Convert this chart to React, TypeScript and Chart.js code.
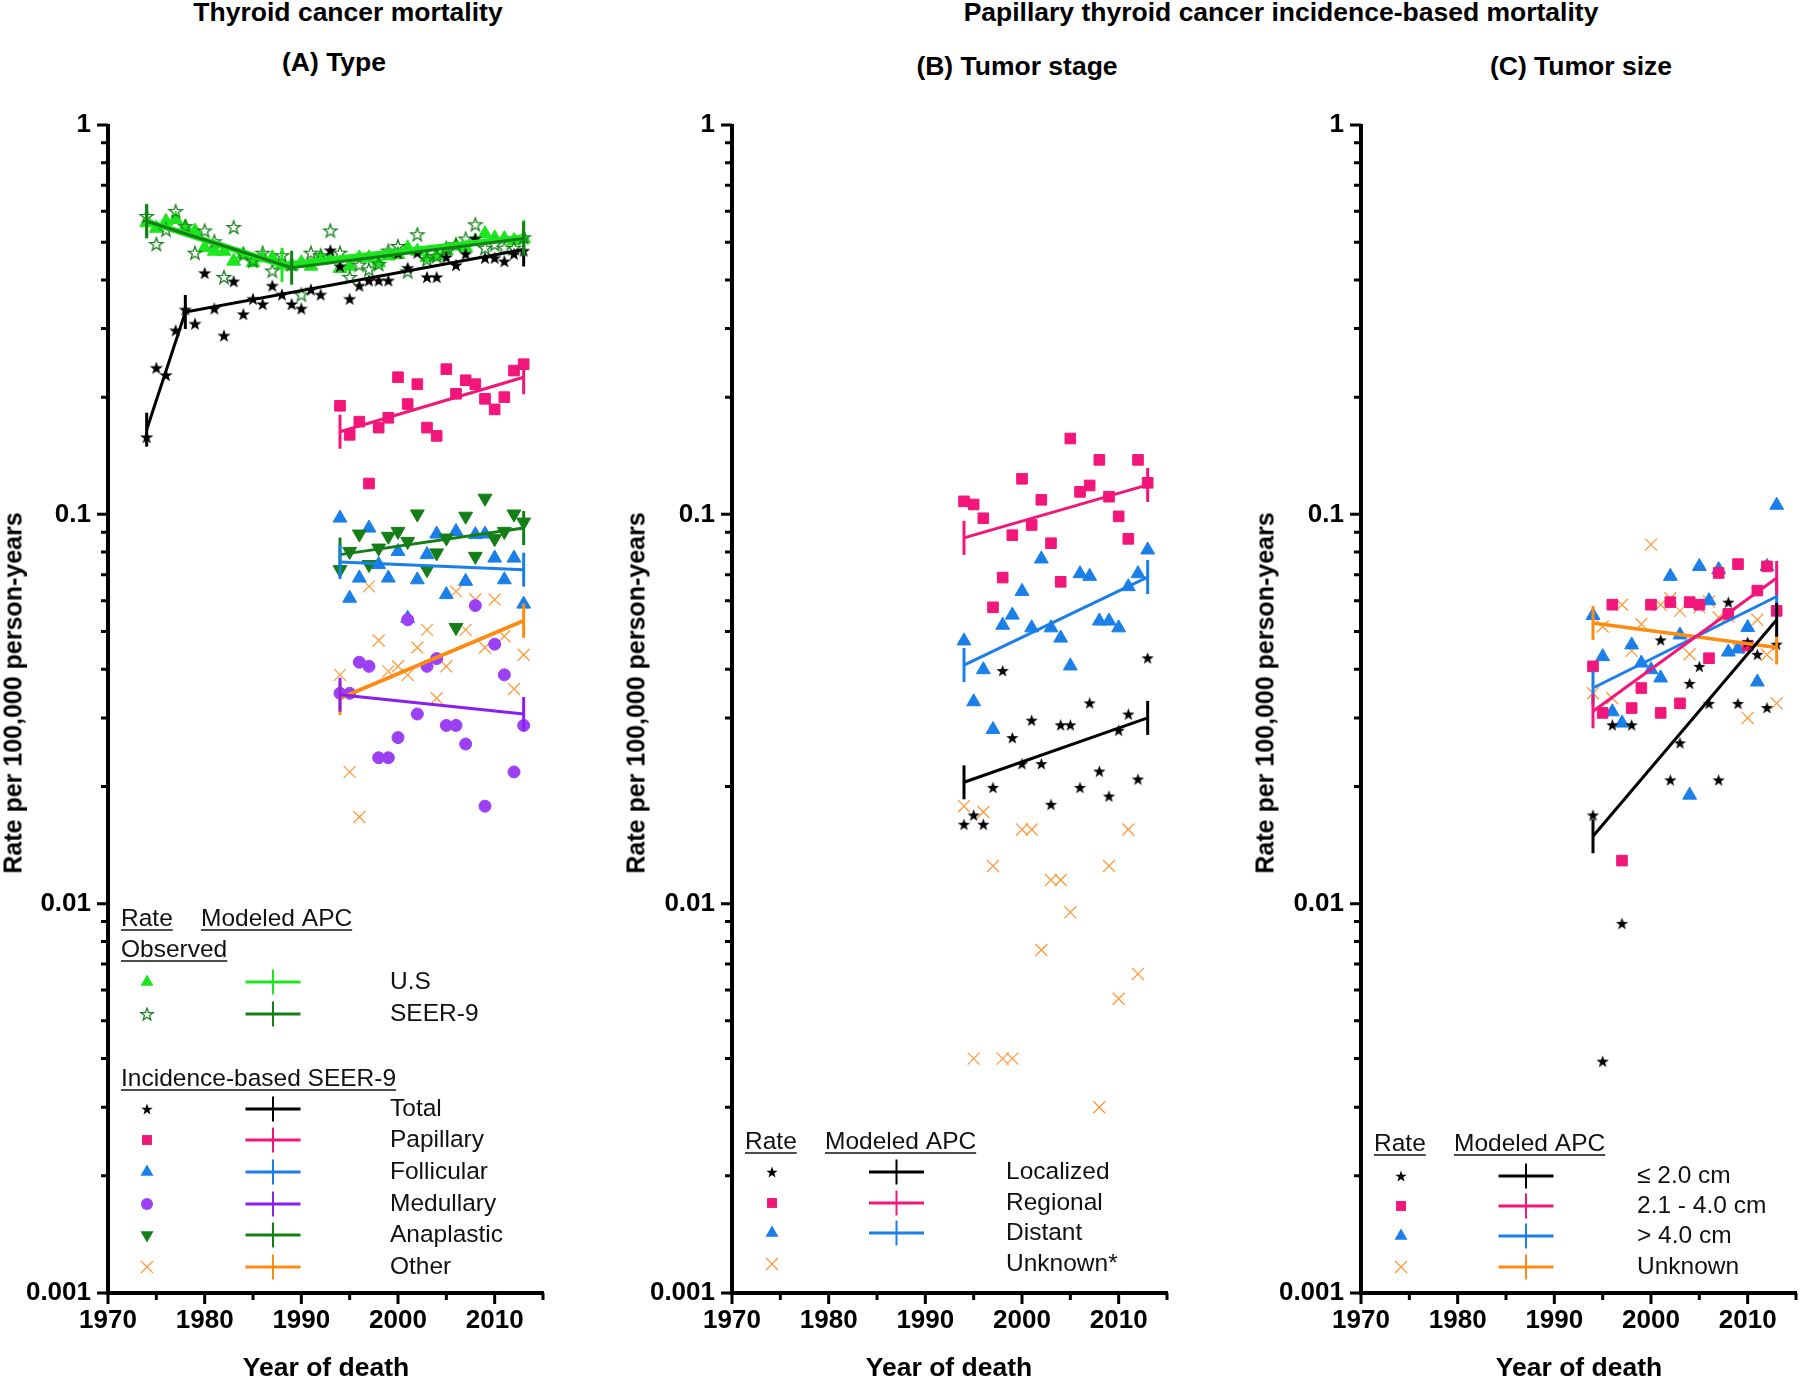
import React, { useEffect, useRef } from "react";
import { Chart, registerables } from "chart.js";

Chart.register(...registerables);

const FONT = '"Liberation Sans", Arial, Helvetica, sans-serif';

// ---------------- categories / ticks ----------------
const YEARS_LONG = [1974, 1975, 1976, 1977, 1978, 1979, 1980, 1981, 1982, 1983, 1984, 1985, 1986, 1987, 1988, 1989, 1990, 1991, 1992, 1993, 1994, 1995, 1996, 1997, 1998, 1999, 2000, 2001, 2002, 2003, 2004, 2005, 2006, 2007, 2008, 2009, 2010, 2011, 2012, 2013];
const YEARS_SHORT = [1994, 1995, 1996, 1997, 1998, 1999, 2000, 2001, 2002, 2003, 2004, 2005, 2006, 2007, 2008, 2009, 2010, 2011, 2012, 2013];
const X_TICKS = [1970, 1980, 1990, 2000, 2010];
const Y_TICKS = [0.001, 0.01, 0.1, 1];

// ---------------- panel A: type ----------------
const A_US_RATE = [0.561, 0.543, 0.566, 0.572, 0.547, 0.534, 0.484, 0.474, 0.474, 0.447, 0.465, 0.443, 0.456, 0.456, 0.438, 0.434, 0.443, 0.434, 0.456, 0.456, 0.428, 0.434, 0.456, 0.456, 0.443, 0.461, 0.465, 0.484, 0.474, 0.456, 0.461, 0.476, 0.489, 0.484, 0.503, 0.526, 0.513, 0.511, 0.505, 0.511];
const A_SEER9_RATE = [0.584, 0.495, 0.539, 0.601, 0.55, 0.47, 0.536, 0.503, 0.407, 0.547, 0.465, 0.449, 0.47, 0.423, 0.463, 0.44, 0.367, 0.47, 0.463, 0.536, 0.47, 0.407, 0.438, 0.426, 0.44, 0.476, 0.489, 0.421, 0.524, 0.452, 0.461, 0.484, 0.494, 0.511, 0.556, 0.484, 0.494, 0.484, 0.484, 0.515];
const A_TOTAL_RATE = [0.158, 0.238, 0.228, 0.297, 0.336, 0.309, 0.417, 0.338, 0.288, 0.397, 0.327, 0.358, 0.347, 0.387, 0.367, 0.347, 0.338, 0.378, 0.367, 0.477, 0.434, 0.358, 0.387, 0.399, 0.399, 0.399, 0.469, 0.43, 0.47, 0.407, 0.407, 0.458, 0.437, 0.467, 0.511, 0.456, 0.456, 0.447, 0.467, 0.476];
const A_PAPILLARY_RATE = [0.19, 0.16, 0.173, 0.12, 0.167, 0.177, 0.225, 0.192, 0.216, 0.167, 0.159, 0.236, 0.204, 0.221, 0.216, 0.198, 0.186, 0.2, 0.234, 0.243];
const A_FOLLICULAR_RATE = [0.0978, 0.0609, 0.0686, 0.0922, 0.0743, 0.0686, 0.0803, 0.0541, 0.0679, 0.0788, 0.089, 0.0622, 0.0904, 0.0673, 0.0887, 0.089, 0.0772, 0.0679, 0.0772, 0.0588];
const A_MEDULLARY_RATE = [0.0347, 0.0347, 0.0417, 0.0407, 0.0237, 0.0237, 0.0267, 0.0536, 0.0307, 0.0407, 0.0426, 0.0287, 0.0287, 0.0257, 0.0583, 0.0178, 0.0464, 0.0387, 0.0218, 0.0287];
const A_ANAPLASTIC_RATE = [0.0721, 0.0803, 0.089, 0.0743, 0.0819, 0.0878, 0.0904, 0.0852, 0.1002, 0.0721, 0.0796, 0.0869, 0.0512, 0.0989, 0.078, 0.11, 0.0866, 0.0904, 0.1002, 0.0955];
const A_OTHER_RATE = [0.0387, 0.0218, 0.0167, 0.0653, 0.0474, 0.0395, 0.0407, 0.0387, 0.0455, 0.0505, 0.0337, 0.0407, 0.0634, 0.0505, 0.0604, 0.0455, 0.0604, 0.0486, 0.0356, 0.0436];

const A_US_APC_YEARS = [1974, 1988, 2013];
const A_US_APC = [0.566, 0.437, 0.515];
const A_SEER9_APC_YEARS = [1974, 1989, 2013];
const A_SEER9_APC = [0.566, 0.43, 0.511];
const A_TOTAL_APC_YEARS = [1974, 1978, 2013];
const A_TOTAL_APC = [0.165, 0.331, 0.479];
const SHORT_APC_YEARS = [1994, 2013];
const A_PAPILLARY_APC = [0.163, 0.225];
const A_FOLLICULAR_APC = [0.0754, 0.0721];
const A_MEDULLARY_APC = [0.0344, 0.0307];
const A_ANAPLASTIC_APC = [0.0788, 0.0922];
const A_OTHER_APC = [0.0337, 0.0533];

// ---------------- panel B: tumor stage ----------------
const B_LOCALIZED_RATE = [0.016, 0.0169, 0.016, 0.0199, 0.0397, 0.0267, 0.0229, 0.0296, 0.0229, 0.018, 0.0288, 0.0288, 0.0199, 0.0328, 0.0219, 0.0189, 0.0279, 0.0307, 0.0209, 0.0428];
const B_REGIONAL_RATE = [0.108, 0.106, 0.0977, 0.0577, 0.0688, 0.0884, 0.1234, 0.0939, 0.109, 0.0843, 0.0671, 0.1566, 0.1142, 0.1186, 0.138, 0.111, 0.0988, 0.0865, 0.138, 0.1205];
const B_DISTANT_RATE = [0.0473, 0.033, 0.0399, 0.028, 0.0519, 0.0551, 0.0634, 0.0511, 0.0768, 0.0511, 0.0481, 0.0408, 0.0704, 0.0693, 0.0532, 0.0532, 0.0511, 0.0652, 0.0704, 0.081];
const B_UNKNOWN_RATE = [0.0178, 0.004, 0.0172, 0.0125, 0.004, 0.004, 0.0155, 0.0155, 0.0076, 0.0115, 0.0115, 0.0095, null, null, 0.003, 0.0125, 0.0057, 0.0155, 0.0066, null];
const B_LOCALIZED_APC = [0.0205, 0.03];
const B_REGIONAL_APC = [0.087, 0.119];
const B_DISTANT_APC = [0.041, 0.069];

// ---------------- panel C: tumor size ----------------
const C_SMALL_RATE = [0.0169, 0.00394, 0.0288, 0.0089, 0.0288, null, null, 0.0476, 0.0208, 0.0259, 0.0368, 0.0407, 0.0327, 0.0208, 0.0595, 0.0327, 0.047, 0.0437, 0.0319, 0.0464];
const C_MEDIUM_RATE = [0.0407, 0.0309, 0.0586, 0.0129, 0.0318, 0.0358, 0.0586, 0.0309, 0.0595, 0.0327, 0.0595, 0.0586, 0.0427, 0.0707, 0.0555, 0.0745, 0.046, 0.0637, 0.0735, 0.0565];
const C_LARGE_RATE = [0.055, 0.0431, 0.0311, 0.0291, 0.0462, 0.0415, 0.0399, 0.038, 0.0693, 0.049, 0.019, 0.0735, 0.06, 0.0721, 0.0443, 0.0451, 0.0512, 0.0371, 0.0735, 0.1055];
const C_UNKNOWN_RATE = [0.0347, 0.0515, 0.0337, 0.0586, 0.0446, 0.0522, 0.0836, 0.0586, 0.0609, 0.0565, 0.0437, 0.0577, 0.0597, 0.0543, 0.0547, 0.0453, 0.03, 0.0536, 0.0436, 0.0327];
const C_SMALL_APC = [0.0149, 0.0536];
const C_MEDIUM_APC = [0.0312, 0.0686];
const C_LARGE_APC = [0.0358, 0.0615];
const C_UNKNOWN_APC = [0.0526, 0.0455];

// ---------------- colours ----------------
const BLACK = "#000000";
const LIME = "#1ee61e";
const DKGREEN = "#137f16";
const PINK = "#f2167a";
const BLUE = "#1a7fe8";
const PURPLE_M = "#9b40f5";
const PURPLE_L = "#8a1ff0";
const ORANGE_M = "#ff9a3c";
const ORANGE_L = "#ff8a12";

type Kind = "star" | "openStar" | "rect" | "triangle" | "triangleDown" | "circle" | "cross";

interface SeriesDef { label: string; years: number[]; values: (number | null)[]; kind: Kind; color: string; size: number; }
interface ApcDef { label: string; years: number[]; values: number[]; color: string; width: number; }
interface LegendRow { y: number; kind: Kind; mColor: string; lColor: string | null; label: string; }
interface PanelDef {
  left: number; top: number; width: number; height: number;
  plotLeft: number; plotRight: number; plotTop: number; plotBottom: number;
  series: SeriesDef[]; apcs: ApcDef[];
  headers: { text: string; x: number; y: number }[];
  markerX: number; crossX: number; labelX: number; rows: LegendRow[];
}

function starPath(g: CanvasRenderingContext2D, cx: number, cy: number, R: number, r: number) {
  g.beginPath();
  for (let i = 0; i < 10; i++) {
    const ang = -Math.PI / 2 + (i * Math.PI) / 5;
    const rad = i % 2 === 0 ? R : r;
    const px = cx + Math.cos(ang) * rad;
    const py = cy + Math.sin(ang) * rad;
    if (i === 0) g.moveTo(px, py);
    else g.lineTo(px, py);
  }
  g.closePath();
}

function makeStar(R: number, fill: string | null, stroke: string | null, lw: number) {
  const s = Math.ceil(2 * R + 4);
  const c = document.createElement("canvas");
  c.width = s;
  c.height = s;
  const g = c.getContext("2d")!;
  starPath(g, s / 2, s / 2 + R * 0.1, R, R * 0.4);
  if (fill) { g.fillStyle = fill; g.fill(); }
  if (stroke) { g.strokeStyle = stroke; g.lineWidth = lw; g.stroke(); }
  return c;
}

function drawMarker(g: CanvasRenderingContext2D, kind: Kind, color: string, x: number, y: number, r: number) {
  g.save();
  g.fillStyle = color;
  g.strokeStyle = color;
  g.beginPath();
  switch (kind) {
    case "star":
      starPath(g, x, y + r * 0.1, r, r * 0.4);
      g.fill();
      break;
    case "openStar":
      starPath(g, x, y + r * 0.1, r, r * 0.4);
      g.lineWidth = 1.2;
      g.stroke();
      break;
    case "rect": {
      const h = r * Math.SQRT1_2;
      g.fillRect(x - h, y - h, 2 * h, 2 * h);
      break;
    }
    case "triangle":
      g.moveTo(x, y - r);
      g.lineTo(x + r * 0.866, y + r * 0.5);
      g.lineTo(x - r * 0.866, y + r * 0.5);
      g.closePath();
      g.fill();
      break;
    case "triangleDown":
      g.moveTo(x, y + r);
      g.lineTo(x + r * 0.866, y - r * 0.5);
      g.lineTo(x - r * 0.866, y - r * 0.5);
      g.closePath();
      g.fill();
      break;
    case "circle":
      g.arc(x, y, r, 0, Math.PI * 2);
      g.fill();
      break;
    case "cross": {
      const h = r * Math.SQRT1_2;
      g.lineWidth = 1.3;
      g.moveTo(x - h, y - h);
      g.lineTo(x + h, y + h);
      g.moveTo(x + h, y - h);
      g.lineTo(x - h, y + h);
      g.stroke();
      break;
    }
  }
  g.restore();
}

const LEGEND_SIZE: Record<Kind, number> = { star: 6, openStar: 6.5, rect: 7, triangle: 7.5, triangleDown: 7.5, circle: 6, cross: 8.5 };

function pointOptions(s: SeriesDef) {
  const base: any = { backgroundColor: s.color, borderColor: s.color, pointBorderWidth: 1 };
  switch (s.kind) {
    case "star":
      return { ...base, pointStyle: makeStar(s.size, s.color, null, 0), pointRadius: s.size };
    case "openStar":
      return { ...base, pointStyle: makeStar(s.size, null, s.color, 1.3), pointRadius: s.size };
    case "rect":
      return { ...base, pointStyle: "rect", pointRadius: s.size };
    case "triangle":
      return { ...base, pointStyle: "triangle", pointRadius: s.size };
    case "triangleDown":
      return { ...base, pointStyle: "triangle", pointRotation: 180, pointRadius: s.size };
    case "circle":
      return { ...base, pointStyle: "circle", pointRadius: s.size };
    case "cross":
      return { ...base, pointStyle: "crossRot", pointRadius: s.size, pointBorderWidth: 1.3 };
  }
}

function PanelChart({ def }: { def: PanelDef }) {
  const ref = useRef<HTMLCanvasElement>(null);
  useEffect(() => {
    const canvas = ref.current!;
    const YW = 100;
    const XH = 60;
    const padLeft = def.plotLeft - def.left - YW;
    const padRight = def.left + def.width - def.plotRight;
    const padTop = def.plotTop - def.top;
    const padBottom = def.top + def.height - def.plotBottom - XH;

    const datasets: any[] = [];
    def.apcs.forEach((a) => {
      datasets.push({
        type: "line",
        label: a.label,
        data: a.years.map((x, i) => ({ x, y: a.values[i] })),
        borderColor: a.color,
        borderWidth: a.width,
        pointStyle: "line",
        pointRotation: 90,
        pointRadius: 17,
        pointBorderColor: a.color,
        pointBackgroundColor: a.color,
        pointBorderWidth: 3,
        tension: 0,
        fill: false,
        clip: false,
        order: 0,
      });
    });
    def.series.forEach((s) => {
      datasets.push({
        type: "scatter",
        label: s.label,
        data: s.years.map((x, i) => ({ x, y: s.values[i] })).filter((p) => p.y != null),
        showLine: false,
        clip: false,
        order: 1,
        ...pointOptions(s),
      });
    });

    const off = { x: def.left, y: def.top };
    const framePlugin = {
      id: "frameAndLegend",
      afterDraw(chart: any) {
        const { ctx, chartArea: a, scales } = chart;
        const xs = scales.x;
        const ys = scales.y;
        ctx.save();
        ctx.strokeStyle = "#000";
        ctx.lineCap = "butt";
        // axis lines
        ctx.lineWidth = 4;
        ctx.beginPath();
        ctx.moveTo(a.left, a.top - 1);
        ctx.lineTo(a.left, a.bottom + 2);
        ctx.moveTo(a.left - 2, a.bottom);
        ctx.lineTo(a.right + 1, a.bottom);
        ctx.stroke();
        // y ticks (major and minor)
        ctx.lineWidth = 3;
        ctx.beginPath();
        for (let e = -3; e <= 0; e++) {
          for (let m = 1; m <= 9; m++) {
            const v = m * Math.pow(10, e);
            if (v > 1.0000001) break;
            const py = ys.getPixelForValue(v);
            const len = m === 1 ? 9 : 5;
            ctx.moveTo(a.left - 2 - len, py);
            ctx.lineTo(a.left, py);
          }
        }
        // x ticks
        for (let yr = 1970; yr <= 2015; yr += 5) {
          const px = xs.getPixelForValue(yr);
          const len = yr % 10 === 0 ? 9 : 5;
          ctx.moveTo(px, a.bottom);
          ctx.lineTo(px, a.bottom + 2 + len);
        }
        ctx.stroke();

        // legend
        ctx.fillStyle = "#111";
        ctx.font = `24.5px ${FONT}`;
        ctx.textBaseline = "middle";
        ctx.textAlign = "left";
        def.headers.forEach((h) => {
          const x = h.x - off.x;
          const y = h.y - off.y;
          ctx.fillText(h.text, x, y);
          const w = ctx.measureText(h.text).width;
          ctx.lineWidth = 1.6;
          ctx.strokeStyle = "#111";
          ctx.beginPath();
          ctx.moveTo(x, y + 11);
          ctx.lineTo(x + w, y + 11);
          ctx.stroke();
        });
        def.rows.forEach((r) => {
          const y = r.y - off.y;
          drawMarker(ctx, r.kind, r.mColor, def.markerX - off.x, y, LEGEND_SIZE[r.kind]);
          if (r.lColor) {
            const cx = def.crossX - off.x;
            ctx.strokeStyle = r.lColor;
            ctx.lineWidth = 3;
            ctx.beginPath();
            ctx.moveTo(cx - 27.5, y);
            ctx.lineTo(cx + 27.5, y);
            ctx.stroke();
            ctx.lineWidth = 2;
            ctx.beginPath();
            ctx.moveTo(cx, y - 12.5);
            ctx.lineTo(cx, y + 12.5);
            ctx.stroke();
          }
          ctx.fillStyle = "#111";
          ctx.fillText(r.label, def.labelX - off.x, y);
        });
        ctx.restore();
      },
    };

    const chart = new Chart(canvas, {
      type: "scatter",
      data: { datasets },
      options: {
        animation: false,
        responsive: false,
        devicePixelRatio: 1,
        events: [],
        layout: { autoPadding: false, padding: { left: padLeft, right: padRight, top: padTop, bottom: padBottom } },
        plugins: { legend: { display: false }, tooltip: { enabled: false }, title: { display: false } },
        scales: {
          x: {
            type: "linear",
            min: 1970,
            max: 2015,
            afterBuildTicks: (s: any) => { s.ticks = X_TICKS.map((v) => ({ value: v })); },
            afterFit: (s: any) => { s.height = XH; },
            grid: { display: false, drawTicks: false },
            border: { display: false },
            ticks: {
              autoSkip: false,
              maxRotation: 0,
              padding: 12,
              color: "#000",
              font: { family: FONT, size: 26, weight: "bold" },
              callback: (v: any) => String(v),
            },
          },
          y: {
            type: "logarithmic",
            min: 0.001,
            max: 1,
            afterBuildTicks: (s: any) => { s.ticks = Y_TICKS.map((v) => ({ value: v })); },
            afterFit: (s: any) => { s.width = YW; },
            grid: { display: false, drawTicks: false },
            border: { display: false },
            ticks: {
              autoSkip: false,
              padding: 17,
              color: "#000",
              font: { family: FONT, size: 26, weight: "bold" },
              callback: (v: any) => String(v),
            },
          },
        },
      } as any,
      plugins: [framePlugin as any],
    });
    return () => chart.destroy();
  }, [def]);
  return (
    <canvas
      ref={ref}
      width={def.width}
      height={def.height}
      style={{ position: "absolute", left: def.left, top: def.top, width: def.width, height: def.height }}
    />
  );
}

const PANEL_A: PanelDef = {
  left: 0, top: 90, width: 575, height: 1288,
  plotLeft: 108, plotRight: 543, plotTop: 125, plotBottom: 1293,
  series: [
    { label: "Total", years: YEARS_LONG, values: A_TOTAL_RATE, kind: "star", color: BLACK, size: 7 },
    { label: "SEER-9 observed", years: YEARS_LONG, values: A_SEER9_RATE, kind: "openStar", color: DKGREEN, size: 7 },
    { label: "U.S observed", years: YEARS_LONG, values: A_US_RATE, kind: "triangle", color: LIME, size: 8 },
    { label: "Papillary", years: YEARS_SHORT, values: A_PAPILLARY_RATE, kind: "rect", color: PINK, size: 7.5 },
    { label: "Medullary", years: YEARS_SHORT, values: A_MEDULLARY_RATE, kind: "circle", color: PURPLE_M, size: 6 },
    { label: "Anaplastic", years: YEARS_SHORT, values: A_ANAPLASTIC_RATE, kind: "triangleDown", color: DKGREEN, size: 8 },
    { label: "Follicular", years: YEARS_SHORT, values: A_FOLLICULAR_RATE, kind: "triangle", color: BLUE, size: 8 },
    { label: "Other", years: YEARS_SHORT, values: A_OTHER_RATE, kind: "cross", color: ORANGE_M, size: 8.5 },
  ],
  apcs: [
    { label: "SEER-9 APC", years: A_SEER9_APC_YEARS, values: A_SEER9_APC, color: DKGREEN, width: 3 },
    { label: "U.S APC", years: A_US_APC_YEARS, values: A_US_APC, color: LIME, width: 6 },
    { label: "Total APC", years: A_TOTAL_APC_YEARS, values: A_TOTAL_APC, color: BLACK, width: 3 },
    { label: "Papillary APC", years: SHORT_APC_YEARS, values: A_PAPILLARY_APC, color: PINK, width: 3 },
    { label: "Follicular APC", years: SHORT_APC_YEARS, values: A_FOLLICULAR_APC, color: BLUE, width: 3 },
    { label: "Medullary APC", years: SHORT_APC_YEARS, values: A_MEDULLARY_APC, color: PURPLE_L, width: 3 },
    { label: "Anaplastic APC", years: SHORT_APC_YEARS, values: A_ANAPLASTIC_APC, color: DKGREEN, width: 3 },
    { label: "Other APC", years: SHORT_APC_YEARS, values: A_OTHER_APC, color: ORANGE_L, width: 4 },
  ],
  headers: [
    { text: "Rate", x: 121, y: 919 },
    { text: "Modeled APC", x: 201, y: 919 },
    { text: "Observed", x: 121, y: 950 },
    { text: "Incidence-based SEER-9", x: 121, y: 1079 },
  ],
  markerX: 147, crossX: 273, labelX: 390,
  rows: [
    { y: 982, kind: "triangle", mColor: LIME, lColor: LIME, label: "U.S" },
    { y: 1014, kind: "openStar", mColor: DKGREEN, lColor: DKGREEN, label: "SEER-9" },
    { y: 1109, kind: "star", mColor: BLACK, lColor: BLACK, label: "Total" },
    { y: 1140, kind: "rect", mColor: PINK, lColor: PINK, label: "Papillary" },
    { y: 1172, kind: "triangle", mColor: BLUE, lColor: BLUE, label: "Follicular" },
    { y: 1204, kind: "circle", mColor: PURPLE_M, lColor: PURPLE_L, label: "Medullary" },
    { y: 1235, kind: "triangleDown", mColor: DKGREEN, lColor: DKGREEN, label: "Anaplastic" },
    { y: 1267, kind: "cross", mColor: ORANGE_M, lColor: ORANGE_L, label: "Other" },
  ],
};

const PANEL_B: PanelDef = {
  left: 600, top: 90, width: 575, height: 1288,
  plotLeft: 732, plotRight: 1167, plotTop: 125, plotBottom: 1293,
  series: [
    { label: "Localized", years: YEARS_SHORT, values: B_LOCALIZED_RATE, kind: "star", color: BLACK, size: 6.5 },
    { label: "Regional", years: YEARS_SHORT, values: B_REGIONAL_RATE, kind: "rect", color: PINK, size: 7.5 },
    { label: "Distant", years: YEARS_SHORT, values: B_DISTANT_RATE, kind: "triangle", color: BLUE, size: 8 },
    { label: "Unknown*", years: YEARS_SHORT, values: B_UNKNOWN_RATE, kind: "cross", color: ORANGE_M, size: 8.5 },
  ],
  apcs: [
    { label: "Localized APC", years: SHORT_APC_YEARS, values: B_LOCALIZED_APC, color: BLACK, width: 3 },
    { label: "Regional APC", years: SHORT_APC_YEARS, values: B_REGIONAL_APC, color: PINK, width: 3 },
    { label: "Distant APC", years: SHORT_APC_YEARS, values: B_DISTANT_APC, color: BLUE, width: 3 },
  ],
  headers: [
    { text: "Rate", x: 745, y: 1142 },
    { text: "Modeled APC", x: 825, y: 1142 },
  ],
  markerX: 772, crossX: 896.5, labelX: 1006,
  rows: [
    { y: 1172, kind: "star", mColor: BLACK, lColor: BLACK, label: "Localized" },
    { y: 1203, kind: "rect", mColor: PINK, lColor: PINK, label: "Regional" },
    { y: 1233, kind: "triangle", mColor: BLUE, lColor: BLUE, label: "Distant" },
    { y: 1264, kind: "cross", mColor: ORANGE_M, lColor: null, label: "Unknown*" },
  ],
};

const PANEL_C: PanelDef = {
  left: 1230, top: 90, width: 570, height: 1288,
  plotLeft: 1361, plotRight: 1796, plotTop: 125, plotBottom: 1293,
  series: [
    { label: "≤ 2.0 cm", years: YEARS_SHORT, values: C_SMALL_RATE, kind: "star", color: BLACK, size: 6.5 },
    { label: "2.1 - 4.0 cm", years: YEARS_SHORT, values: C_MEDIUM_RATE, kind: "rect", color: PINK, size: 7.5 },
    { label: "> 4.0 cm", years: YEARS_SHORT, values: C_LARGE_RATE, kind: "triangle", color: BLUE, size: 8 },
    { label: "Unknown", years: YEARS_SHORT, values: C_UNKNOWN_RATE, kind: "cross", color: ORANGE_M, size: 8.5 },
  ],
  apcs: [
    { label: "≤ 2.0 cm APC", years: SHORT_APC_YEARS, values: C_SMALL_APC, color: BLACK, width: 3 },
    { label: "2.1 - 4.0 cm APC", years: SHORT_APC_YEARS, values: C_MEDIUM_APC, color: PINK, width: 3 },
    { label: "> 4.0 cm APC", years: SHORT_APC_YEARS, values: C_LARGE_APC, color: BLUE, width: 3 },
    { label: "Unknown APC", years: SHORT_APC_YEARS, values: C_UNKNOWN_APC, color: ORANGE_L, width: 3.5 },
  ],
  headers: [
    { text: "Rate", x: 1374, y: 1144 },
    { text: "Modeled APC", x: 1454, y: 1144 },
  ],
  markerX: 1401, crossX: 1526, labelX: 1637,
  rows: [
    { y: 1176, kind: "star", mColor: BLACK, lColor: BLACK, label: "≤ 2.0 cm" },
    { y: 1206, kind: "rect", mColor: PINK, lColor: PINK, label: "2.1 - 4.0 cm" },
    { y: 1236, kind: "triangle", mColor: BLUE, lColor: BLUE, label: "> 4.0 cm" },
    { y: 1267, kind: "cross", mColor: ORANGE_M, lColor: ORANGE_L, label: "Unknown" },
  ],
};

function Label({ x, y, size, bold, rotate, children }: { x: number; y: number; size: number; bold?: boolean; rotate?: boolean; children: React.ReactNode }) {
  return (
    <div
      style={{
        position: "absolute",
        left: x,
        top: y,
        transform: `translate(-50%, -50%)${rotate ? " rotate(-90deg)" : ""}`,
        font: `${bold ? "bold " : ""}${size}px ${FONT}`,
        lineHeight: 1,
        whiteSpace: "nowrap",
        color: "#000",
      }}
    >
      {children}
    </div>
  );
}

export default function App() {
  return (
    <div style={{ position: "absolute", left: 0, top: 0, width: 1800, height: 1378, background: "#fff", overflow: "hidden" }}>
      <PanelChart def={PANEL_A} />
      <PanelChart def={PANEL_B} />
      <PanelChart def={PANEL_C} />
      <Label x={348} y={12} size={26.5} bold>Thyroid cancer mortality</Label>
      <Label x={1281} y={12} size={26.5} bold>Papillary thyroid cancer incidence-based mortality</Label>
      <Label x={334} y={62} size={26.5} bold>(A) Type</Label>
      <Label x={1017} y={66} size={26.5} bold>(B) Tumor stage</Label>
      <Label x={1581} y={66} size={26.5} bold>(C) Tumor size</Label>
      <Label x={13} y={693} size={25} bold rotate>Rate per 100,000 person-years</Label>
      <Label x={636} y={693} size={25} bold rotate>Rate per 100,000 person-years</Label>
      <Label x={1265} y={693} size={25} bold rotate>Rate per 100,000 person-years</Label>
      <Label x={326} y={1367} size={26.5} bold>Year of death</Label>
      <Label x={949} y={1367} size={26.5} bold>Year of death</Label>
      <Label x={1579} y={1367} size={26.5} bold>Year of death</Label>
    </div>
  );
}
